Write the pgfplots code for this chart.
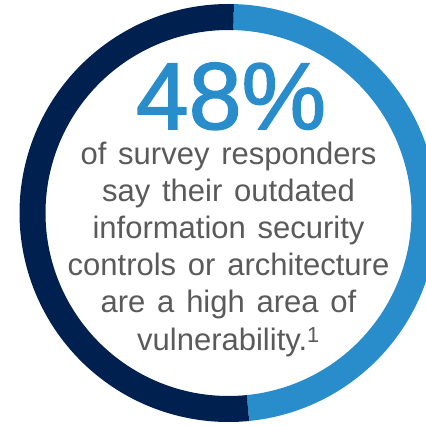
\documentclass[border=0pt]{standalone}
\usepackage{pgfplots}
\pgfplotsset{compat=1.18}
\usepackage{pgfplotstable}
\usepackage{fontspec}
\setmainfont{Liberation Sans}
\newfontfamily\bigfont[FakeBold=1.6]{Liberation Sans}
\definecolor{navy}{HTML}{00204F}
\definecolor{lblue}{HTML}{2A8DCB}
\definecolor{txt}{HTML}{5A5A5A}
\pgfplotstableread{
label value
yes 48
no 52
}\ringdata
\pgfplotstablegetelem{0}{value}\of\ringdata
\let\valA\pgfplotsretval
\pgfplotstablegetelem{1}{value}\of\ringdata
\let\valB\pgfplotsretval
\pgfmathsetmacro\angS{88.5}
\pgfmathsetmacro\angM{\angS-3.6*\valA}
\pgfmathsetmacro\angE{\angM-3.6*\valB}
\newcommand\bodyfont{\fontsize{31bp}{37bp}\selectfont}
\newcommand\ws{\hspace{0.38em}}
\begin{document}
\begin{tikzpicture}
\useasboundingbox (0,0) rectangle (426bp,426bp);
\begin{axis}[
  at={(0,0)}, anchor=south west,
  width=426bp, height=426bp, scale only axis,
  xmin=0, xmax=426, ymin=0, ymax=426,
  hide axis, clip=true,
]
\addplot[lblue, line width=26bp, domain=\angS:\angM, samples=240]
  ({228.5+196*cos(x)}, {213+196*sin(x)});
\addplot[navy, line width=26bp, domain=\angM:\angE, samples=260]
  ({228.5+196*cos(x)}, {213+196*sin(x)});
\node[anchor=base, text=lblue, font=\bigfont\fontsize{95bp}{100bp}\selectfont, inner sep=0pt] at (axis cs:231,297) {\smash{48\%}};
\node[anchor=base, text=txt, inner sep=0pt, font=\bodyfont] at (axis cs:228.5,261) {of\ws survey\ws responders};
\node[anchor=base, text=txt, inner sep=0pt, font=\bodyfont] at (axis cs:228.5,224) {say\ws their\ws outdated};
\node[anchor=base, text=txt, inner sep=0pt, font=\bodyfont] at (axis cs:228.5,187) {information\ws security};
\node[anchor=base, text=txt, inner sep=0pt, font=\bodyfont] at (axis cs:228.5,150) {controls\ws or\ws architecture};
\node[anchor=base, text=txt, inner sep=0pt, font=\bodyfont] at (axis cs:228.5,113) {are\ws a\ws high\ws area\ws of};
\node[anchor=base, text=txt, inner sep=0pt, font=\bodyfont] at (axis cs:228.5,75) {vulnerability.\textsuperscript{1}};
\end{axis}
\end{tikzpicture}
\end{document}
